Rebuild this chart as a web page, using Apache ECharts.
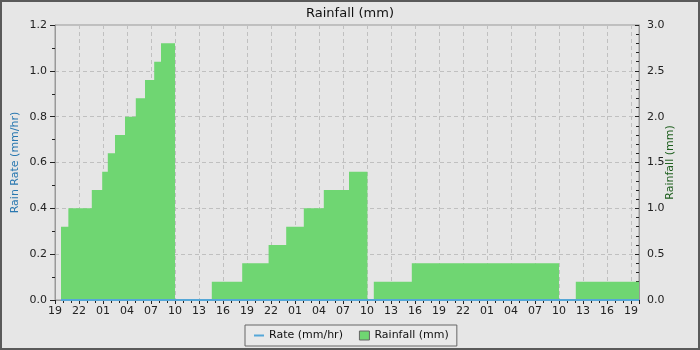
<!DOCTYPE html>
<html lang="en">
<head>
    <meta charset="UTF-8">
    <script src="https://cdnjs.cloudflare.com/ajax/libs/echarts/6.0.0/echarts.min.js"></script>
    <style>
        html, body { margin: 0; padding: 0; background: #e6e6e6; }
        #wrap {
            width: 700px;
            height: 350px;
            box-sizing: border-box;
            border: 2px solid #5a5a5a;
            background: #e6e6e6;
            overflow: hidden;
        }
        #chart { width: 700px; height: 350px; margin: -2px 0 0 -2px; }
    </style>
    <title>Rainfall</title>
</head>
<body>
    <div id="wrap"><div id="chart"></div></div>
    <script type="text/javascript">
        // hours counted from 19:00 on the first day
        var startHour = 19;
        var axisHours = [0, 73];

        // cumulative rainfall (mm), value holds from this hour until the next one
        var rainHours = [0.75, 1.67, 4.6, 5.9, 6.6, 7.5, 8.75, 10.1, 11.25, 12.4, 13.25, 15.0,
            19.6, 23.4, 26.7, 28.9, 31.1, 33.6, 36.75, 39.05,
            39.85, 44.6, 63.0, 65.1, 73];
        var rainValues = [0.8, 1.0, 1.2, 1.4, 1.6, 1.8, 2.0, 2.2, 2.4, 2.6, 2.8, 0,
            0.2, 0.4, 0.6, 0.8, 1.0, 1.2, 1.4, 0,
            0.2, 0.4, 0, 0.2, 0.2];

        // rain rate (mm/hr)
        var rateHours = [0.75, 73];
        var rateValues = [0, 0];

        function pairs(xs, ys) {
            var out = [];
            for (var i = 0; i < xs.length; i++) out.push([xs[i], ys[i]]);
            return out;
        }
        function pad(n) { return (n < 10 ? '0' : '') + n; }

        var font = 'DejaVu Sans';
        var chart = echarts.init(document.getElementById('chart'));
        var option = {
            backgroundColor: 'transparent',
            animation: false,
            textStyle: { fontFamily: font },
            title: {
                text: 'Rainfall (mm)',
                left: 'center',
                top: 2,
                textStyle: { fontFamily: font, fontSize: 13, fontWeight: 'normal', color: '#111' }
            },
            legend: {
                left: 245,
                top: 325,
                padding: [5, 8, 5, 8],
                itemGap: 16,
                itemWidth: 10,
                itemHeight: 9,
                borderColor: '#666',
                borderWidth: 1,
                backgroundColor: '#e9e9e9',
                textStyle: { fontFamily: font, fontSize: 11, color: '#111' },
                data: [
                    { name: 'Rate (mm/hr)', itemStyle: { opacity: 0 } },
                    { name: 'Rainfall (mm)', icon: 'rect', itemStyle: { color: '#6fd672', borderColor: '#666', borderWidth: 1 } }
                ]
            },
            grid: {
                left: 55, right: 61, top: 25, bottom: 50,
                outerBoundsMode: 'none',
                containLabel: false,
                show: true,
                borderColor: '#999',
                borderWidth: 1,
                backgroundColor: 'transparent'
            },
            xAxis: {
                type: 'value',
                min: axisHours[0],
                max: axisHours[1],
                interval: 3,
                axisLine: { show: true, onZero: false, lineStyle: { color: '#999' } },
                axisTick: { show: true, length: 4, lineStyle: { color: '#222' } },
                minorTick: { show: true, splitNumber: 3, length: 3, lineStyle: { color: '#222' } },
                splitLine: { show: true, lineStyle: { color: '#c0c0c0', type: [4, 3] } },
                axisLabel: {
                    fontSize: 11, color: '#222', margin: 6,
                    showMaxLabel: false,
                    formatter: function (v) { return pad((startHour + v) % 24); }
                }
            },
            yAxis: [
                {
                    type: 'value',
                    min: 0, max: 1.2, interval: 0.2,
                    name: 'Rain Rate (mm/hr)',
                    nameLocation: 'middle',
                    nameGap: 34,
                    nameMoveOverlap: false,
                    nameTextStyle: { fontFamily: font, fontSize: 11, color: '#2a78b0' },
                    axisLine: { show: true, lineStyle: { color: '#999' } },
                    axisTick: { show: true, length: 5, lineStyle: { color: '#222' } },
                    minorTick: { show: true, splitNumber: 2, length: 3, lineStyle: { color: '#222' } },
                    splitLine: { show: true, lineStyle: { color: '#c0c0c0', type: [4, 3] } },
                    axisLabel: {
                        fontSize: 11, color: '#222', margin: 8,
                        formatter: function (v) { return v.toFixed(1); }
                    }
                },
                {
                    type: 'value',
                    min: 0, max: 3.0, interval: 0.5,
                    name: 'Rainfall (mm)',
                    nameLocation: 'middle',
                    nameGap: 26,
                    nameMoveOverlap: false,
                    nameTextStyle: { fontFamily: font, fontSize: 11, color: '#1d5e1d' },
                    axisLine: { show: true, lineStyle: { color: '#999' } },
                    axisTick: { show: true, inside: true, length: 4, lineStyle: { color: '#222' } },
                    minorTick: { show: true, splitNumber: 5, length: 3, lineStyle: { color: '#222' } },
                    splitLine: { show: false },
                    axisLabel: {
                        fontSize: 11, color: '#222', margin: 8,
                        formatter: function (v) { return v.toFixed(1); }
                    }
                }
            ],
            series: [
                {
                    name: 'Rainfall (mm)',
                    type: 'line',
                    yAxisIndex: 1,
                    step: 'end',
                    symbol: 'none',
                    lineStyle: { width: 0, color: '#6fd672' },
                    itemStyle: { color: '#6fd672' },
                    areaStyle: { color: '#6fd672', opacity: 1 },
                    data: pairs(rainHours, rainValues),
                    z: 2
                },
                {
                    name: 'Rate (mm/hr)',
                    type: 'line',
                    yAxisIndex: 0,
                    symbol: 'none',
                    lineStyle: { width: 2, color: '#55a7d8' },
                    itemStyle: { color: '#55a7d8' },
                    data: pairs(rateHours, rateValues),
                    z: 3
                }
            ]
        };
        chart.setOption(option);
    </script>
</body>
</html>
